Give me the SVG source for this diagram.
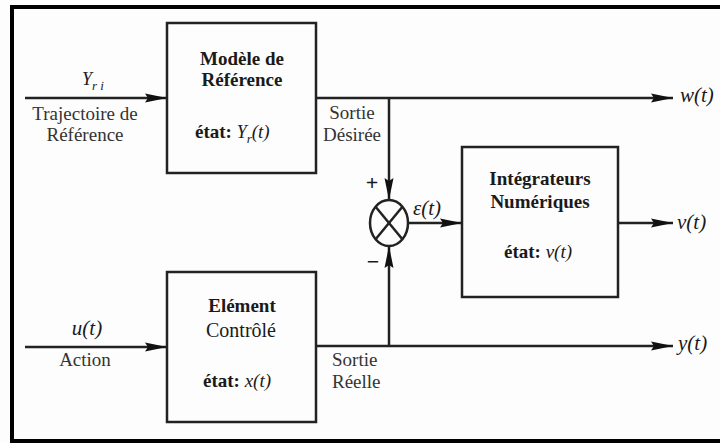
<svg xmlns="http://www.w3.org/2000/svg" width="720" height="443" viewBox="0 0 720 443">
<style>
  .box { fill: none; stroke: #222; stroke-width: 2.5; }
  .ln { fill: none; stroke: #222; stroke-width: 2.5; }
  .t { font-family: "Liberation Serif", "Times New Roman", serif; font-size: 19px; fill: #333; }
  .b { font-family: "Liberation Serif", "Times New Roman", serif; font-size: 19px; fill: #1a1a1a; font-weight: bold; }
  .i { font-family: "Liberation Serif", "Times New Roman", serif; font-size: 21px; fill: #1a1a1a; font-style: italic; }
  .mid { text-anchor: middle; }
</style>
<defs>
  <marker id="ah" markerUnits="userSpaceOnUse" markerWidth="24" markerHeight="12" refX="22" refY="5" orient="auto">
    <path d="M0,0.5 L22,5 L0,9.5 L3,5 z" fill="#111"/>
  </marker>
</defs>
<rect x="0" y="0" width="720" height="443" fill="#fdfdfd"/>
<rect x="12" y="7" width="720" height="434" fill="none" stroke="#000" stroke-width="4"/>

<g id="connectors">
  <line class="ln" x1="25" y1="98" x2="167" y2="98" marker-end="url(#ah)"/>
  <line class="ln" x1="25" y1="347" x2="167" y2="347" marker-end="url(#ah)"/>
  <line class="ln" x1="316" y1="98" x2="673" y2="98" marker-end="url(#ah)"/>
  <line class="ln" x1="316" y1="346" x2="673" y2="346" marker-end="url(#ah)"/>
  <line class="ln" x1="389" y1="98" x2="389" y2="200" marker-end="url(#ah)"/>
  <line class="ln" x1="389" y1="346" x2="389" y2="246" marker-end="url(#ah)"/>
  <line class="ln" x1="408" y1="223" x2="462" y2="223" marker-end="url(#ah)"/>
  <line class="ln" x1="618" y1="223" x2="673" y2="223" marker-end="url(#ah)"/>
</g>

<g id="input-labels">
  <text class="i" x="82" y="85" style="font-size:18px">Y<tspan dy="5" style="font-size:13px">r i</tspan></text>
  <text class="t mid" x="85" y="120">Trajectoire de</text>
  <text class="t mid" x="85" y="141">Référence</text>
  <text class="i mid" x="87" y="335">u(t)</text>
  <text class="t mid" x="85" y="366">Action</text>
  <text class="t mid" x="352" y="119">Sortie</text>
  <text class="t mid" x="352" y="141">Désirée</text>
  <text class="t" x="332" y="366">Sortie</text>
  <text class="t" x="332" y="388">Réelle</text>
</g>

<g id="modele">
  <rect class="box" x="167" y="23" width="149" height="150"/>
  <text class="b mid" x="242" y="65">Modèle de</text>
  <text class="b mid" x="242" y="86">Référence</text>
  <text class="b" x="195" y="138">état: <tspan style="font-weight:normal;font-style:italic;font-size:18px">Y</tspan><tspan dy="5" style="font-weight:normal;font-style:italic;font-size:13px">r</tspan><tspan dy="-5" style="font-weight:normal;font-style:italic">(t)</tspan></text>
</g>

<g id="element">
  <rect class="box" x="167" y="272" width="149" height="150"/>
  <text class="b mid" x="242" y="312">Elément</text>
  <text class="t mid" x="241" y="337" style="fill:#1a1a1a;font-size:20px">Contrôlé</text>
  <text class="b" x="203" y="387">état: <tspan style="font-weight:normal;font-style:italic">x(t)</tspan></text>
</g>

<g id="sommateur">
  <ellipse cx="389" cy="223" rx="19" ry="23" fill="none" stroke="#222" stroke-width="2.5"/>
  <line class="ln" stroke-width="1.6" x1="375.6" y1="206.7" x2="402.4" y2="239.3"/>
  <line class="ln" stroke-width="1.6" x1="402.4" y1="206.7" x2="375.6" y2="239.3"/>
  <text class="b mid" x="372" y="190" style="font-size:22px">+</text>
  <text class="b mid" x="373" y="269" style="font-size:22px">−</text>
  <text class="i" x="413" y="215">ε(t)</text>
</g>

<g id="integrateurs">
  <rect class="box" x="462" y="147" width="156" height="150"/>
  <text class="b mid" x="540" y="185">Intégrateurs</text>
  <text class="b mid" x="540" y="208">Numériques</text>
  <text class="b" x="504" y="258">état: <tspan style="font-weight:normal;font-style:italic">v(t)</tspan></text>
</g>

<g id="output-labels">
  <text class="i" x="680" y="102">w(t)</text>
  <text class="i" x="677" y="229">v(t)</text>
  <text class="i" x="678" y="350">y(t)</text>
</g>
</svg>
